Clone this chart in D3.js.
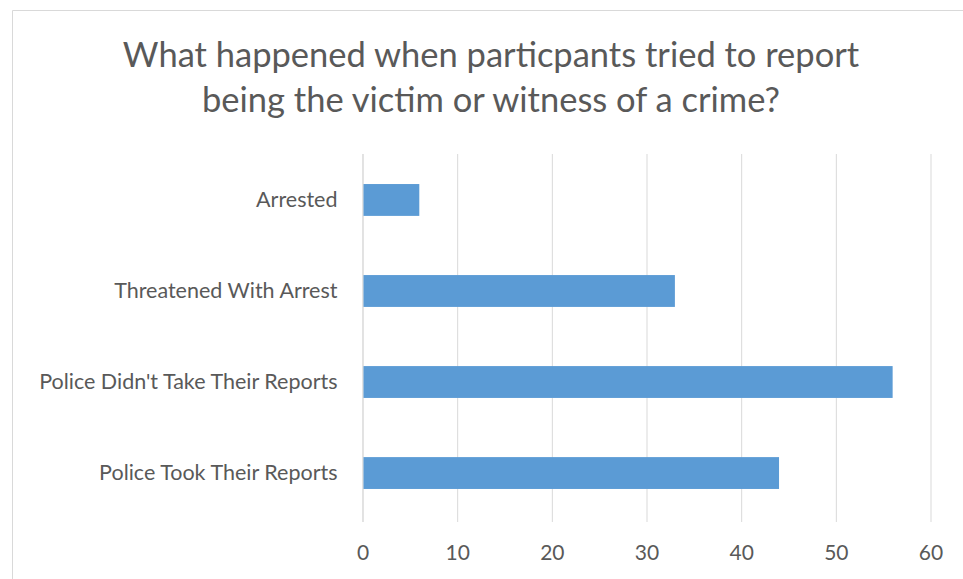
<!DOCTYPE html>
<html>
<head>
<meta charset="utf-8">
<script src="https://cdn.jsdelivr.net/npm/d3@7"></script>
<style>
  body { margin: 0; background: #fff; }
  svg { display: block; }
</style>
</head>
<body>
<svg id="main" width="963" height="579"></svg>
<script>
var categories = ["Arrested", "Threatened With Arrest", "Police Didn't Take Their Reports", "Police Took Their Reports"];
var values = [6, 33, 56, 44];
var tickValues = [0, 10, 20, 30, 40, 50, 60];
var titleLines = ["What happened when particpants tried to report", "being the victim or witness of a crime?"];

var margin = {top: 154, right: 31, bottom: 57, left: 363};
var svg = d3.select("#main"),
    width = +svg.attr("width") - margin.left - margin.right,
    height = +svg.attr("height") - margin.top - margin.bottom;

var font = "Lato, 'Open Sans', sans-serif";

// outer frame (cut-off spreadsheet chart border)
svg.append("path")
    .attr("d", "M12.5,579 V10.5 H963")
    .attr("fill", "none")
    .attr("stroke", "#d9d9d9")
    .attr("stroke-width", 1);

svg.append("text")
    .attr("x", 491)
    .attr("y", 67)
    .attr("text-anchor", "middle")
    .attr("font-family", font)
    .attr("font-size", 34.5)
    .attr("fill", "#595959")
    .selectAll("tspan")
    .data(titleLines)
    .enter().append("tspan")
    .attr("x", 491)
    .attr("dy", function(d, i) { return i ? 45 : 0; })
    .text(function(d) { return d; });

var xScale = d3.scaleLinear()
        .domain([0, 60])
        .range([0, width - 1]),
    yScale = d3.scaleBand()
        .domain(categories)
        .range([0, height - 3])
        .paddingInner(0.65)
        .paddingOuter(0.33),
    g = svg.append("g")
        .attr("transform", "translate(" + (margin.left - 0.5) + "," + margin.top + ")");

// gridlines
g.append("g")
    .attr("class", "grid")
    .call(d3.axisBottom(xScale).tickValues(tickValues).tickSize(height).tickFormat(""))
    .call(function(s) {
        s.select(".domain").remove();
        s.selectAll("line").attr("stroke", "#d9d9d9");
    });

// x axis labels
g.append("g")
    .attr("transform", "translate(0," + height + ")")
    .call(d3.axisBottom(xScale).tickValues(tickValues).tickSize(0).tickPadding(23))
    .call(function(s) {
        s.select(".domain").remove();
        s.selectAll("text")
            .attr("font-family", font)
            .attr("font-size", 21)
            .attr("fill", "#595959");
    });

// y axis labels
g.append("g")
    .call(d3.axisLeft(yScale).tickSize(0).tickPadding(25))
    .call(function(s) {
        s.select(".domain").attr("stroke", "#d9d9d9").attr("d", "M0.5,0V" + height);
        s.selectAll("text")
            .attr("font-family", font)
            .attr("font-size", 21.5)
            .attr("fill", "#595959");
    });

g.selectAll(".bar")
    .data(values)
    .enter().append("rect")
    .attr("class", "bar")
    .attr("x", xScale(0) + 1)
    .attr("y", function(d, i) { return yScale(categories[i]); })
    .attr("width", function(d) { return xScale(d) - xScale(0) - 1; })
    .attr("height", yScale.bandwidth())
    .attr("fill", "#5b9bd5");
</script>
</body>
</html>
